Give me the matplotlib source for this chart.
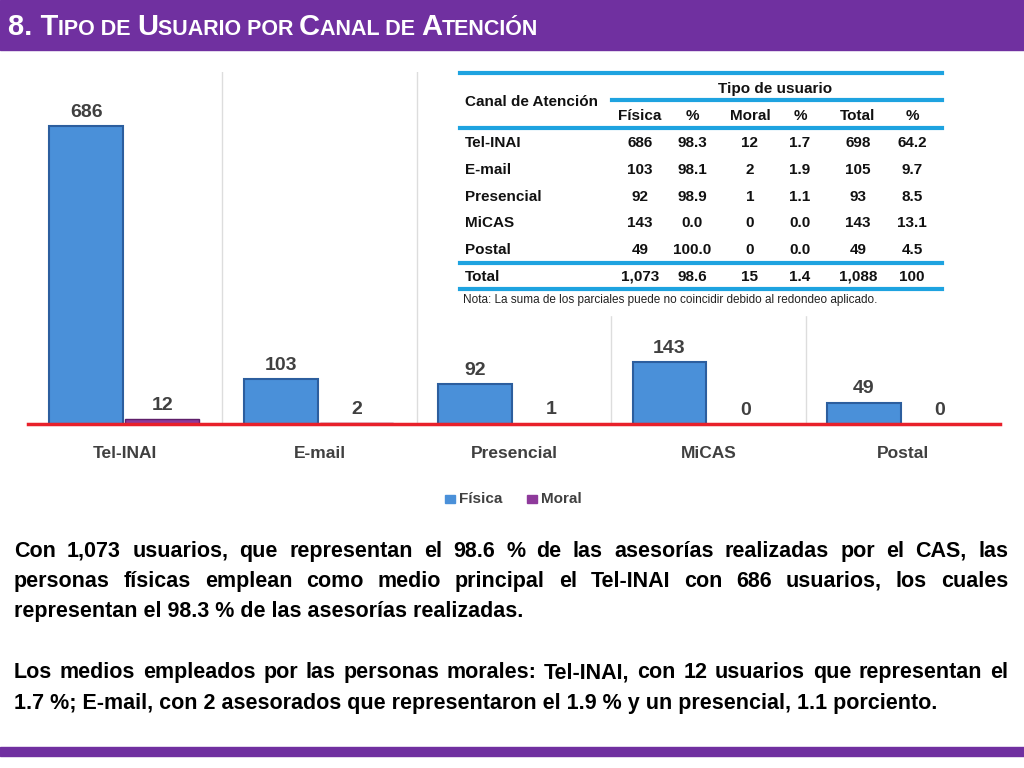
import numpy as np
import matplotlib.pyplot as plt
from matplotlib.patches import Rectangle

plt.rcParams["font.family"] = "Liberation Sans"

canales = ["Tel-INAI", "E-mail", "Presencial", "MiCAS", "Postal"]
fisica = [686, 103, 92, 143, 49]
moral = [12, 2, 1, 0, 0]
fisica_pct = ["98.3", "98.1", "98.9", "0.0", "100.0"]
moral_pct = ["1.7", "1.9", "1.1", "0.0", "0.0"]
total = ["698", "105", "93", "143", "49"]
total_pct = ["64.2", "9.7", "8.5", "13.1", "4.5"]
fila_total = ["Total", "1,073", "98.6", "15", "1.4", "1,088", "100"]

W, H = 1024, 768
fig = plt.figure(figsize=(10.24, 7.68), dpi=100)

def fx(px):
    return px / W

def fy(py):
    return 1 - py / H

# barras moradas
fig.patches.append(Rectangle((0, fy(50)), 1, 50 / H, transform=fig.transFigure,
                             color="#7030a0", zorder=0))
fig.patches.append(Rectangle((0, fy(756)), 1, 9 / H, transform=fig.transFigure,
                             color="#7030a0", zorder=0))

# titulo en versalitas simuladas
fig.canvas.draw()
r = fig.canvas.get_renderer()
partes = [("8. T", 21), ("IPO DE ", 15.5), ("U", 21), ("SUARIO POR ", 15.5), ("C", 21),
          ("ANAL DE ", 15.5), ("A", 21), ("TENCIÓN", 15.5)]
xp = fx(8)
for s, size in partes:
    t = fig.text(xp, fy(35), s, fontsize=size, fontweight="bold", color="white", va="baseline")
    xp += t.get_window_extent(r).width / W

# grafico
ax = fig.add_axes([fx(28), fy(424), fx(1000) - fx(28), (424 - 72) / H])
x = np.arange(len(canales))
w = 0.38
ax.bar(x - 0.2, fisica, w, color="#4a90d9", edgecolor="#2c5e9e", linewidth=1.5)
ax.bar(x + 0.19, moral, w, color="#8e3a9b", edgecolor="#5e1f6a")
for i in range(len(canales)):
    ax.text(x[i] - 0.2, fisica[i] + 12, str(fisica[i]), ha="center", va="bottom",
            fontsize=14, fontweight="bold", color="#404040")
    ax.text(x[i] + 0.19, moral[i] + 12, str(moral[i]), ha="center", va="bottom",
            fontsize=14, fontweight="bold", color="#404040")
ax.set_xlim(-0.5, 4.5)
ax.set_ylim(0, 810)
for i in range(1, 5):
    ax.axvline(i - 0.5, color="#dddddd", lw=1)
ax.axhline(0, color="#e8202a", lw=2.5, clip_on=False)
ax.set_xticks(x)
ax.set_xticklabels(canales, fontsize=12.5, fontweight="bold", color="#404040")
ax.tick_params(axis="x", length=0, pad=16)
ax.set_yticks([])
for s in ax.spines.values():
    s.set_visible(False)

# leyenda
fig.patches.append(Rectangle((fx(445), fy(503)), 10 / W, 8 / H, transform=fig.transFigure, color="#4a90d9"))
fig.text(fx(459), fy(499), "Física", fontsize=11, fontweight="bold", color="#404040", va="center")
fig.patches.append(Rectangle((fx(527), fy(503)), 10 / W, 8 / H, transform=fig.transFigure, color="#8e3a9b"))
fig.text(fx(541), fy(499), "Moral", fontsize=11, fontweight="bold", color="#404040", va="center")

# tabla
fig.patches.append(Rectangle((fx(458), fy(315)), 485 / W, 245 / H, transform=fig.transFigure,
                             color="white", zorder=3))
blue = "#1ea3e0"
for y, x0 in [(73, 460), (100, 612), (128, 460), (263, 460), (289, 460)]:
    fig.lines.append(plt.Line2D([fx(x0), fx(942)], [fy(y), fy(y)], transform=fig.transFigure,
                                color=blue, lw=3, zorder=4))
tk = dict(fontsize=11, fontweight="bold", va="center", zorder=5, color="#111111")
fig.text(fx(465), fy(102), "Canal de Atención", **tk)
fig.text(fx(775), fy(89), "Tipo de usuario", ha="center", **tk)
cols = [640, 692, 750, 800, 858, 912]
for c, h in zip(cols, ["Física", "%", "Moral", "%", "Total", "%"]):
    fig.text(fx(c), fy(116), h, ha="center", **tk)
for k in range(5):
    y = 143 + k * 26.8
    fig.text(fx(465), fy(y), canales[k], **tk)
    vals = [str(fisica[k]), fisica_pct[k], str(moral[k]), moral_pct[k], total[k], total_pct[k]]
    for c, v in zip(cols, vals):
        fig.text(fx(c), fy(y), v, ha="center", **tk)
fig.text(fx(465), fy(277), fila_total[0], **tk)
for c, v in zip(cols, fila_total[1:]):
    fig.text(fx(c), fy(277), v, ha="center", **tk)
fig.text(fx(463), fy(300), "Nota: La suma de los parciales puede no coincidir debido al redondeo aplicado.",
         fontsize=8.5, va="center", zorder=5, color="#222222")

# texto inferior (justificado)
tt = dict(fontsize=15.5, fontweight="bold", va="baseline", color="black")
lineas = [
    (557, "Con 1,073 usuarios, que representan el 98.6 % de las asesorías realizadas por el CAS, las", True),
    (587, "personas físicas emplean como medio principal el Tel-INAI con 686 usuarios, los cuales", True),
    (617, "representan el 98.3 % de las asesorías realizadas.", False),
    (678, "Los medios empleados por las personas morales: Tel-INAI, con 12 usuarios que representan el", True),
    (709, "1.7 %; E-mail, con 2 asesorados que representaron el 1.9 % y un presencial, 1.1 porciento.", False),
]
left, right = fx(14), fx(1008)
for y, s, just in lineas:
    if not just:
        fig.text(left, fy(y), s, **tt)
        continue
    words = s.split(" ")
    ws = []
    for wd in words:
        t = fig.text(0, 0, wd, **tt)
        ws.append(t.get_window_extent(r).width / W)
        t.remove()
    gap = (right - left - sum(ws)) / (len(words) - 1)
    xp = left
    for wd, wv in zip(words, ws):
        fig.text(xp, fy(y), wd, **tt)
        xp += wv + gap

fig.savefig("out.png", dpi=100)
